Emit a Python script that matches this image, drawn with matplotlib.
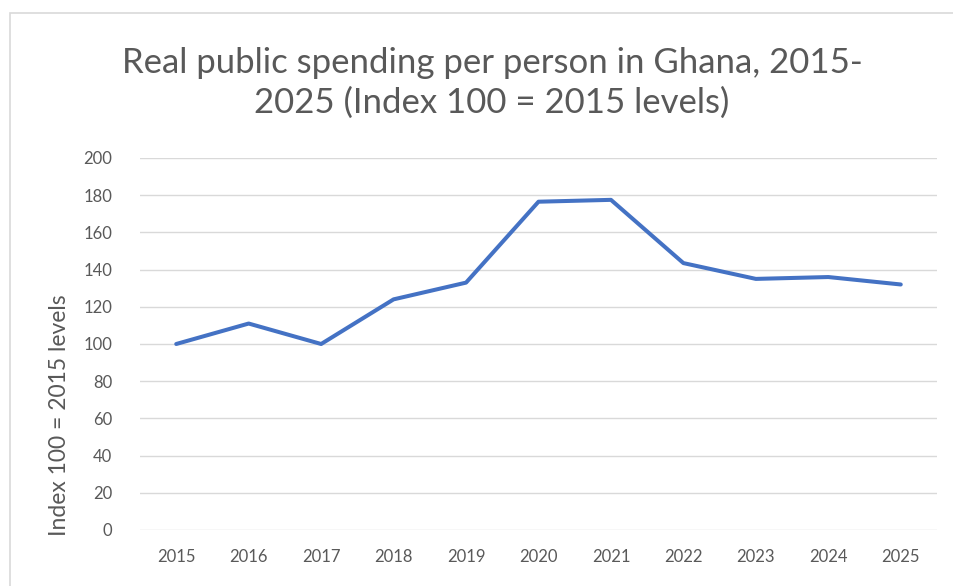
import matplotlib.pyplot as plt
from matplotlib.patches import Rectangle

years = ["2015", "2016", "2017", "2018", "2019", "2020", "2021", "2022", "2023", "2024", "2025"]
index_vals = [100, 111, 100, 124, 133, 176.5, 177.5, 143.5, 135, 136, 132]
yticks = list(range(0, 201, 20))

plt.rcParams['font.family'] = ['Lato', 'DejaVu Sans']
grey = "#595959"

fig = plt.figure(figsize=(9.54, 5.86), dpi=100)
# chart border like excel (only top and left visible in the crop)
fig.patches.append(Rectangle((10/954, -0.05), 1.0, 1.05 - 13/586, transform=fig.transFigure,
                             fill=False, edgecolor="#D9D9D9", lw=1.2, clip_on=False))

ax = fig.add_axes([140/954, 1 - 530/586, (937 - 140)/954, (530 - 158)/586])
x = list(range(len(years)))
ax.plot(x, index_vals, color="#4472C4", lw=2.9, solid_joinstyle="round", solid_capstyle="round")

ax.set_xlim(-0.5, len(years) - 0.5)
ax.set_ylim(0, 200)
ax.set_yticks(yticks)
ax.set_xticks(x)
ax.set_xticklabels(years)
ax.grid(axis="y", color="#D9D9D9", lw=1)
ax.set_axisbelow(True)
for s in ax.spines.values():
    s.set_visible(False)
ax.tick_params(length=0, labelsize=12, labelcolor=grey)
ax.tick_params(axis="y", pad=20)
ax.tick_params(axis="x", pad=14)

fig.text(492/954, 1 - 83/586, "Real public spending per person in Ghana, 2015-\n2025 (Index 100 = 2015 levels)",
         ha="center", va="center", fontsize=25, color=grey, linespacing=1.32)
fig.text(60/954, 1 - 415/586, "Index 100 = 2015 levels", rotation=90, ha="center", va="center",
         fontsize=16.5, color=grey)

fig.savefig("out.png", dpi=100)
